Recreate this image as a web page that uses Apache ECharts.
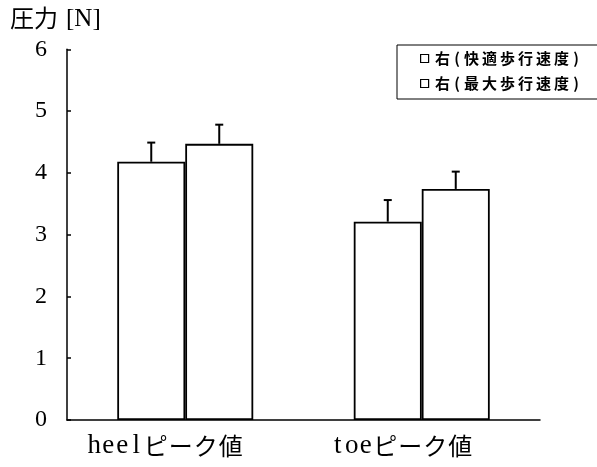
<!DOCTYPE html>
<html><head><meta charset="utf-8">
<script src="https://cdn.jsdelivr.net/npm/echarts@6/dist/echarts.min.js"></script>
<style>html,body{margin:0;padding:0;background:#fff}#c{width:597px;height:467px}</style>
</head><body><div id="c"></div>
<script>
const categories = ['heelピーク値', 'toeピーク値'];
const seriesNames = ['右(快適歩行速度)', '右(最大歩行速度)'];
const comfortable = [4.18, 3.21];
const comfortableErr = [0.31, 0.35];
const maximum = [4.47, 3.74];
const maximumErr = [0.31, 0.28];
const yTicks = [0, 1, 2, 3, 4, 5, 6];

const chart = echarts.init(document.getElementById('c'));
const serif = "'Liberation Serif', serif";
const cjk = "'Noto Sans CJK JP', sans-serif";
const barCatGap = 0.425;

// wrap each character in a fixed-width rich box (emulates the monospaced Japanese font)
function mono(str, latinStyle, cjkStyle) {
  return str.split('').map(ch => {
    const isLatin = ch.charCodeAt(0) < 128;
    return '{' + (isLatin ? latinStyle : cjkStyle) + '|' + ch + '}';
  }).join('');
}

function errSeries(vals, errs, idx) {
  return {
    type: 'custom',
    silent: true,
    z: 5,
    renderItem: function (params, api) {
      const ci = api.value(0);
      const v = api.value(1);
      const e = api.value(2);
      const bandW = api.size([1, 0])[0];
      const barW = bandW * (1 - barCatGap) / 2;
      const base = api.coord([ci, v]);
      const top = api.coord([ci, v + e]);
      const x = base[0] + (idx === 0 ? -barW / 2 : barW / 2);
      const cap = 4;
      return {
        type: 'group',
        children: [
          { type: 'line', shape: { x1: x, y1: base[1], x2: x, y2: top[1] }, style: { stroke: '#000', lineWidth: 2 } },
          { type: 'line', shape: { x1: x - cap, y1: top[1], x2: x + cap, y2: top[1] }, style: { stroke: '#000', lineWidth: 2 } }
        ]
      };
    },
    data: vals.map((v, i) => [i, v, errs[i]])
  };
}

chart.setOption({
  animation: false,
  backgroundColor: '#fff',
  graphic: [
    { type: 'text', left: 10, top: 6,
      style: { text: '圧力', font: "24px 'Noto Sans CJK JP', sans-serif", fill: '#000' } },
    { type: 'text', left: 66, top: 7,
      style: { text: '[N]', font: "25px 'Liberation Serif', serif", fill: '#000' } }
  ],
  legend: {
    orient: 'vertical',
    left: 397, top: 45,
    padding: [6, 40, 8, 23],
    itemGap: 10,
    borderColor: '#000', borderWidth: 1,
    itemWidth: 8, itemHeight: 8,
    icon: 'rect',
    itemStyle: { color: '#fff', borderColor: '#000', borderWidth: 1.2 },
    formatter: name => mono(name, 'p', 'c'),
    textStyle: {
      color: '#000',
      rich: {
        c: { width: 18, align: 'center', fontSize: 15, fontWeight: 'bold', fontFamily: cjk, lineHeight: 18, color: '#000' },
        p: { width: 11, align: 'center', fontSize: 15, fontWeight: 'bold', fontFamily: cjk, lineHeight: 18, color: '#000' }
      }
    },
    data: seriesNames
  },
  grid: { left: 67, right: 57, top: 49.3, bottom: 47, containLabel: false },
  xAxis: {
    type: 'category',
    data: categories,
    axisLine: { lineStyle: { color: '#000', width: 1.5 } },
    axisTick: { inside: true, length: 6, lineStyle: { color: '#000', width: 1.5 } },
    axisLabel: {
      interval: 0,
      hideOverlap: false,
      margin: 12,
      padding: [0, 40, 0, 0],
      formatter: v => mono(v, 'l', 'c'),
      rich: {
        l: { width: 14, align: 'center', fontSize: 27, fontFamily: serif, color: '#000', lineHeight: 28 },
        c: { width: 25, align: 'center', fontSize: 24, fontFamily: cjk, color: '#000', lineHeight: 28 }
      }
    }
  },
  yAxis: {
    type: 'value',
    min: 0, max: 6, interval: 1,
    axisLine: { show: true, lineStyle: { color: '#000', width: 1.5 } },
    axisTick: { show: true, inside: true, length: 4, lineStyle: { color: '#000', width: 1.5 } },
    splitLine: { show: false },
    axisLabel: { fontFamily: serif, fontSize: 24, color: '#000', margin: 20,
      formatter: v => yTicks.indexOf(v) >= 0 ? String(v) : '' }
  },
  series: [
    { name: seriesNames[0], type: 'bar', data: comfortable, barGap: '0%', barCategoryGap: (barCatGap * 100) + '%',
      itemStyle: { color: '#fff', borderColor: '#000', borderWidth: 1.8 } },
    { name: seriesNames[1], type: 'bar', data: maximum, barGap: '0%', barCategoryGap: (barCatGap * 100) + '%',
      itemStyle: { color: '#fff', borderColor: '#000', borderWidth: 1.8 } },
    errSeries(comfortable, comfortableErr, 0),
    errSeries(maximum, maximumErr, 1)
  ]
});
</script></body></html>
